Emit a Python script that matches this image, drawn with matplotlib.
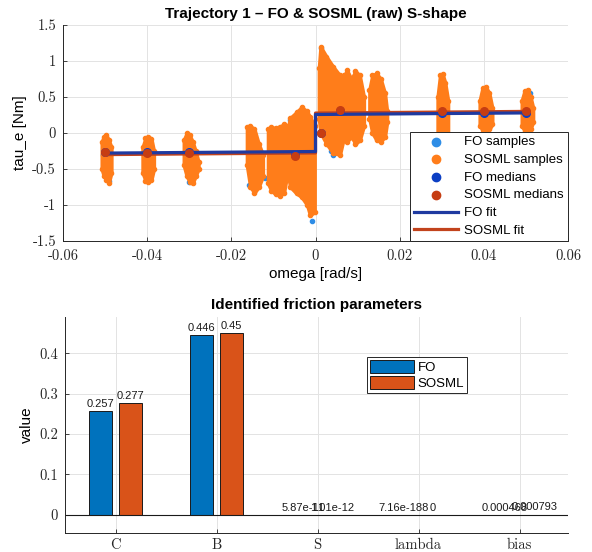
import matplotlib
matplotlib.use("Agg")
import matplotlib.pyplot as plt
from matplotlib.ticker import FuncFormatter

plt.rcParams['font.family'] = ['Liberation Sans', 'DejaVu Sans']
plt.rcParams['axes.unicode_minus'] = False

# ---- top panel: sample clouds, read as envelopes (omega, upper, lower) ----
cluster_omega = [
    [-0.0508, -0.0503, -0.0497, -0.0491, -0.0485],
    [-0.0411, -0.0404, -0.0397, -0.0390, -0.0384],
    [-0.0313, -0.0306, -0.0299, -0.0292, -0.0285, -0.0278],
    [-0.0163, -0.0155, -0.0145, -0.0135, -0.0125],
    [-0.0113, -0.0105, -0.0095, -0.0085, -0.0075, -0.0068],
    [-0.0065, -0.0060, -0.0045, -0.0033, -0.0020, -0.0013, -0.0002],
    [0.0008, 0.0012, 0.0026, 0.0042, 0.0058, 0.0066],
    [0.0068, 0.0075, 0.0085, 0.0095, 0.0105, 0.0115],
    [0.0128, 0.0135, 0.0145, 0.0155, 0.0165, 0.0170],
    [0.0290, 0.0296, 0.0302, 0.0308, 0.0315],
    [0.0390, 0.0397, 0.0405, 0.0413, 0.0420],
    [0.0490, 0.0497, 0.0504, 0.0511, 0.0517],
]
cluster_hi = [
    [-0.12, -0.05, -0.03, -0.10, -0.20],
    [-0.20, -0.07, -0.05, -0.08, -0.25],
    [-0.10, 0.00, -0.03, -0.12, -0.25, -0.40],
    [0.08, 0.10, 0.05, -0.15, -0.30],
    [0.05, 0.08, 0.07, 0.09, 0.12, 0.00],
    [0.10, 0.21, 0.29, 0.36, 0.30, 0.22, 0.10],
    [0.90, 1.20, 1.06, 0.92, 0.80, 0.75],
    [0.80, 0.87, 0.75, 0.86, 0.80, 0.50],
    [0.60, 0.80, 0.83, 0.75, 0.55, 0.30],
    [0.50, 0.80, 0.82, 0.70, 0.45],
    [0.45, 0.63, 0.64, 0.55, 0.35],
    [0.45, 0.59, 0.60, 0.50, 0.35],
]
cluster_lo = [
    [-0.50, -0.60, -0.65, -0.69, -0.55],
    [-0.55, -0.66, -0.68, -0.65, -0.50],
    [-0.45, -0.60, -0.68, -0.70, -0.60, -0.50],
    [-0.45, -0.75, -0.83, -0.75, -0.60],
    [-0.70, -0.80, -0.85, -0.87, -0.83, -0.60],
    [-0.60, -0.75, -0.84, -0.89, -1.00, -1.14, -1.10],
    [0.20, 0.00, -0.15, -0.28, -0.30, -0.10],
    [0.00, -0.12, -0.05, -0.15, -0.10, 0.10],
    [0.20, 0.00, -0.10, -0.12, -0.05, 0.15],
    [-0.10, -0.25, -0.25, -0.20, -0.05],
    [0.10, 0.04, 0.03, 0.05, 0.12],
    [0.10, 0.03, 0.04, 0.06, 0.15],
]

# FO samples that stick out of the SOSML cloud
fo_sample_omega = [-0.0490, -0.0393, -0.0145, -0.0140, -0.0158, -0.0008,
                   0.0012, 0.0036, 0.0041, 0.0300, -0.0300, 0.0400, 0.0510,
                   -0.0505, -0.0120, -0.0060, 0.0155, 0.0092]
fo_sample_tau = [-0.66, -0.64, -0.44, -0.46, -0.72, -1.22,
                 1.18, -0.25, -0.31, 0.74, -0.68, 0.60, 0.55,
                 -0.30, -0.62, 0.18, 0.45, 0.70]

# binned medians
med_omega = [-0.05, -0.04, -0.03, -0.0048, 0.0013, 0.0058, 0.03, 0.04, 0.05]
fo_med_tau = [-0.26, -0.265, -0.265, -0.31, 0.0, 0.31, 0.28, 0.28, 0.28]
sosml_med_tau = [-0.27, -0.275, -0.275, -0.32, 0.0, 0.32, 0.30, 0.30, 0.30]

# fitted S-shape curves
fit_omega = [-0.05, 0.0, 0.0, 0.05]
fo_fit_tau = [-0.279, -0.257, 0.257, 0.279]
sosml_fit_tau = [-0.300, -0.277, 0.277, 0.300]

# ---- bottom panel: identified parameters ----
params = ['C', 'B', 'S', 'lambda', 'bias']
fo_vals = [0.257, 0.446, 5.87e-11, 7.16e-188, 0.000468]
sosml_vals = [0.277, 0.45, 1.01e-12, 0.0, 0.000793]

FO_SAMPLE = '#2e8de6'
SOSML_SAMPLE = '#ff7d1a'
FO_MED = '#0c3fc4'
SOSML_MED = '#c63d12'
FO_FIT = '#1f3aa0'
SOSML_FIT = '#c2431c'
FO_BAR = '#0072BD'
SOSML_BAR = '#D95319'

tick_fmt = FuncFormatter(lambda v, p: '%g' % round(v, 6))


def style_axes(ax, xpad=6):
    for side in ['top', 'right']:
        ax.spines[side].set_visible(False)
    for side in ['left', 'bottom']:
        ax.spines[side].set_color('#262626')
        ax.spines[side].set_linewidth(0.7)
    ax.tick_params(direction='in', length=3, width=0.6, colors='#262626')
    ax.tick_params(axis='x', pad=xpad)
    ax.tick_params(axis='y', pad=5)
    ax.grid(True, color='#e3e3e3', linewidth=0.7)
    ax.set_axisbelow(True)
    for lab in ax.get_xticklabels() + ax.get_yticklabels():
        lab.set_fontfamily('cmr10')
        lab.set_fontsize(10.5)


fig = plt.figure(figsize=(5.92, 5.52), dpi=100)

# ---------------- top ----------------
ax1 = fig.add_axes([0.1064, 0.5634, 0.8531, 0.3913])
ax1.scatter(fo_sample_omega, fo_sample_tau, s=9, color=FO_SAMPLE,
            zorder=2, label='FO samples')
edge_w, edge_t = [], []
for w, hi, lo in zip(cluster_omega, cluster_hi, cluster_lo):
    ax1.fill_between(w, lo, hi, color=SOSML_SAMPLE, linewidth=2.5,
                     edgecolor=SOSML_SAMPLE, zorder=3)
    edge_w += w + w
    edge_t += hi + lo
ax1.scatter(edge_w, edge_t, s=9, color=SOSML_SAMPLE, zorder=3,
            label='SOSML samples')
ax1.plot(fit_omega, sosml_fit_tau, color=SOSML_FIT, lw=2.3, zorder=4,
         label='SOSML fit')
ax1.plot(fit_omega, fo_fit_tau, color=FO_FIT, lw=2.3, zorder=4,
         label='FO fit')
ax1.scatter(med_omega, fo_med_tau, s=30, color=FO_MED, zorder=5,
            label='FO medians')
ax1.scatter(med_omega, sosml_med_tau, s=30, color=SOSML_MED, zorder=5,
            label='SOSML medians')

ax1.set_xlim(-0.06, 0.06)
ax1.set_ylim(-1.5, 1.5)
ax1.set_xticks([-0.06, -0.04, -0.02, 0, 0.02, 0.04, 0.06])
ax1.set_yticks([-1.5, -1, -0.5, 0, 0.5, 1, 1.5])
ax1.xaxis.set_major_formatter(tick_fmt)
ax1.yaxis.set_major_formatter(tick_fmt)
style_axes(ax1)
ax1.set_title('Trajectory 1 \u2013 FO & SOSML (raw) S-shape',
              fontsize=11, fontweight='bold', pad=5)
ax1.set_xlabel('omega [rad/s]', fontsize=11, labelpad=3)
ax1.set_ylabel('tau_e [Nm]', fontsize=11)

h, l = ax1.get_legend_handles_labels()
order = ['FO samples', 'SOSML samples', 'FO medians', 'SOSML medians',
         'FO fit', 'SOSML fit']
hh = [h[l.index(o)] for o in order]
leg1 = ax1.legend(hh, order, loc='lower right', fontsize=9.5,
                  fancybox=False, framealpha=1, edgecolor='#262626',
                  handlelength=3.3, labelspacing=0.42, borderpad=0.3,
                  borderaxespad=0, handletextpad=0.5)
leg1.get_frame().set_linewidth(0.7)
for lh in leg1.legend_handles[:4]:
    lh.set_sizes([36])

# ---------------- bottom ----------------
ax2 = fig.add_axes([0.1098, 0.0344, 0.8497, 0.3913])
x = list(range(1, len(params) + 1))
off = 0.145
bw = 0.23
b1 = ax2.bar([i - off for i in x], fo_vals, bw, color=FO_BAR,
             edgecolor='#1a1a1a', linewidth=0.7, label='FO')
b2 = ax2.bar([i + off for i in x], sosml_vals, bw, color=SOSML_BAR,
             edgecolor='#1a1a1a', linewidth=0.7, label='SOSML')
for bars, vals in [(b1, fo_vals), (b2, sosml_vals)]:
    for r, v in zip(bars, vals):
        ax2.annotate(f'{v:.3g}', (r.get_x() + r.get_width() / 2, v),
                     xytext=(0, 1.5), textcoords='offset points',
                     ha='center', va='bottom', fontsize=8, color='#1a1a1a')
ax2.axhline(0, color='#1a1a1a', lw=0.8, zorder=1)
ax2.set_xlim(0.5, 5.48)
ax2.set_ylim(-0.045, 0.49)
ax2.set_xticks(x)
ax2.set_xticklabels(params)
ax2.set_yticks([0, 0.1, 0.2, 0.3, 0.4])
ax2.yaxis.set_major_formatter(tick_fmt)
style_axes(ax2, xpad=3.5)
ax2.set_title('Identified friction parameters', fontsize=11,
              fontweight='bold', pad=6)
ax2.set_ylabel('value', fontsize=11)
leg2 = ax2.legend(loc='upper left', bbox_to_anchor=(0.60, 0.815),
                  fontsize=9.5, fancybox=False, framealpha=1,
                  edgecolor='#262626', handlelength=3.3, handleheight=1.1,
                  labelspacing=0.15, borderpad=0.25, borderaxespad=0,
                  handletextpad=0.3)
leg2.get_frame().set_linewidth(0.7)

fig.savefig('out.png', dpi=100)
